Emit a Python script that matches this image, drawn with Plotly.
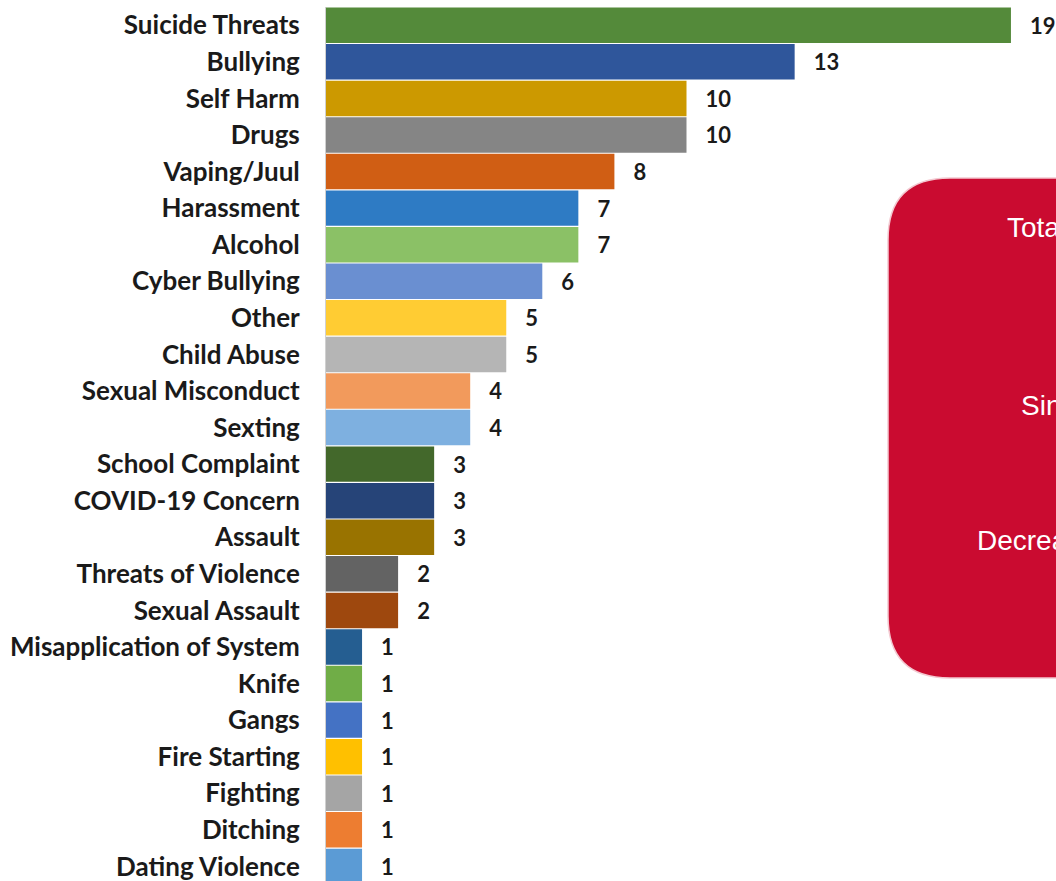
import plotly.graph_objects as go

categories = ["Suicide Threats", "Bullying", "Self Harm", "Drugs", "Vaping/Juul",
              "Harassment", "Alcohol", "Cyber Bullying", "Other", "Child Abuse",
              "Sexual Misconduct", "Sexting", "School Complaint", "COVID-19 Concern",
              "Assault", "Threats of Violence", "Sexual Assault",
              "Misapplication of System", "Knife", "Gangs", "Fire Starting",
              "Fighting", "Ditching", "Dating Violence"]
values = [19, 13, 10, 10, 8, 7, 7, 6, 5, 5, 4, 4, 3, 3, 3, 2, 2, 1, 1, 1, 1, 1, 1, 1]
colors = ["#548A3A", "#2F569B", "#CC9900", "#858585", "#D05E14", "#2E7BC4",
          "#8BC166", "#6A8FD1", "#FFCC33", "#B5B5B5", "#F29A5C", "#7EB0E0",
          "#43682B", "#264478", "#997300", "#636363", "#9E480E", "#255E91",
          "#70AD47", "#4472C4", "#FFC000", "#A5A5A5", "#ED7D31", "#5B9BD5"]
box_lines = ["Total", "Since", "Decrease"]

W, H = 1056, 881
L, T = 326, 7
pw, ph = W - L, H - T


def px(xp):
    return (xp - L) / pw


def py(yp):
    return 1 - (yp - T) / ph


fig = go.Figure(go.Bar(
    y=categories, x=values, orientation="h",
    marker=dict(color=colors, line=dict(width=0)),
    text=["\u00a0\u00a0\u00a0" + str(v) for v in values],
    textposition="outside", cliponaxis=False,
    textfont=dict(family="Lato", size=22, color="#1a1a1a", weight="bold"),
))

# rounded red box
x0, x1, y0, y1, r = 888, 1120, 178, 678, 62
rx, ry = r / pw, r / ph
X0, X1, Y0, Y1 = px(x0), px(x1), py(y0), py(y1)
path = (f"M {X0 + rx} {Y0} L {X1 - rx} {Y0} Q {X1} {Y0} {X1} {Y0 - ry} "
        f"L {X1} {Y1 + ry} Q {X1} {Y1} {X1 - rx} {Y1} L {X0 + rx} {Y1} "
        f"Q {X0} {Y1} {X0} {Y1 + ry} L {X0} {Y0 - ry} Q {X0} {Y0} {X0 + rx} {Y0} Z")
fig.add_shape(type="path", path=path, xref="paper", yref="paper",
              fillcolor="#CA0B30", line=dict(color="#F3C9D1", width=1.5), layer="above")

for txt, xp_, yp_ in zip(box_lines, [1005, 1019, 975], [227, 405, 540]):
    fig.add_annotation(x=px(xp_), y=py(yp_), xref="paper", yref="paper",
                       text=txt, showarrow=False, xanchor="left", yanchor="middle",
                       font=dict(family="Liberation Sans", size=28, color="white"))

fig.update_layout(
    width=W, height=H,
    margin=dict(l=L, r=0, t=T, b=0),
    plot_bgcolor="white", paper_bgcolor="white",
    bargap=0.03, showlegend=False,
    xaxis=dict(range=[0, pw / 36.05], visible=False, fixedrange=True),
    yaxis=dict(categoryorder="array", categoryarray=categories,
               range=[(H - T) / 36.57 - 0.5, -0.5], fixedrange=True,
               showline=True, linecolor="#D0D0D0", linewidth=1,
               ticks="", ticklabelstandoff=20, showgrid=False,
               tickfont=dict(family="Lato", size=26, color="#1a1a1a", weight="bold")),
)

fig.write_html("out.html", config={"displayModeBar": False},
               post_script="document.body.style.margin='0';")
